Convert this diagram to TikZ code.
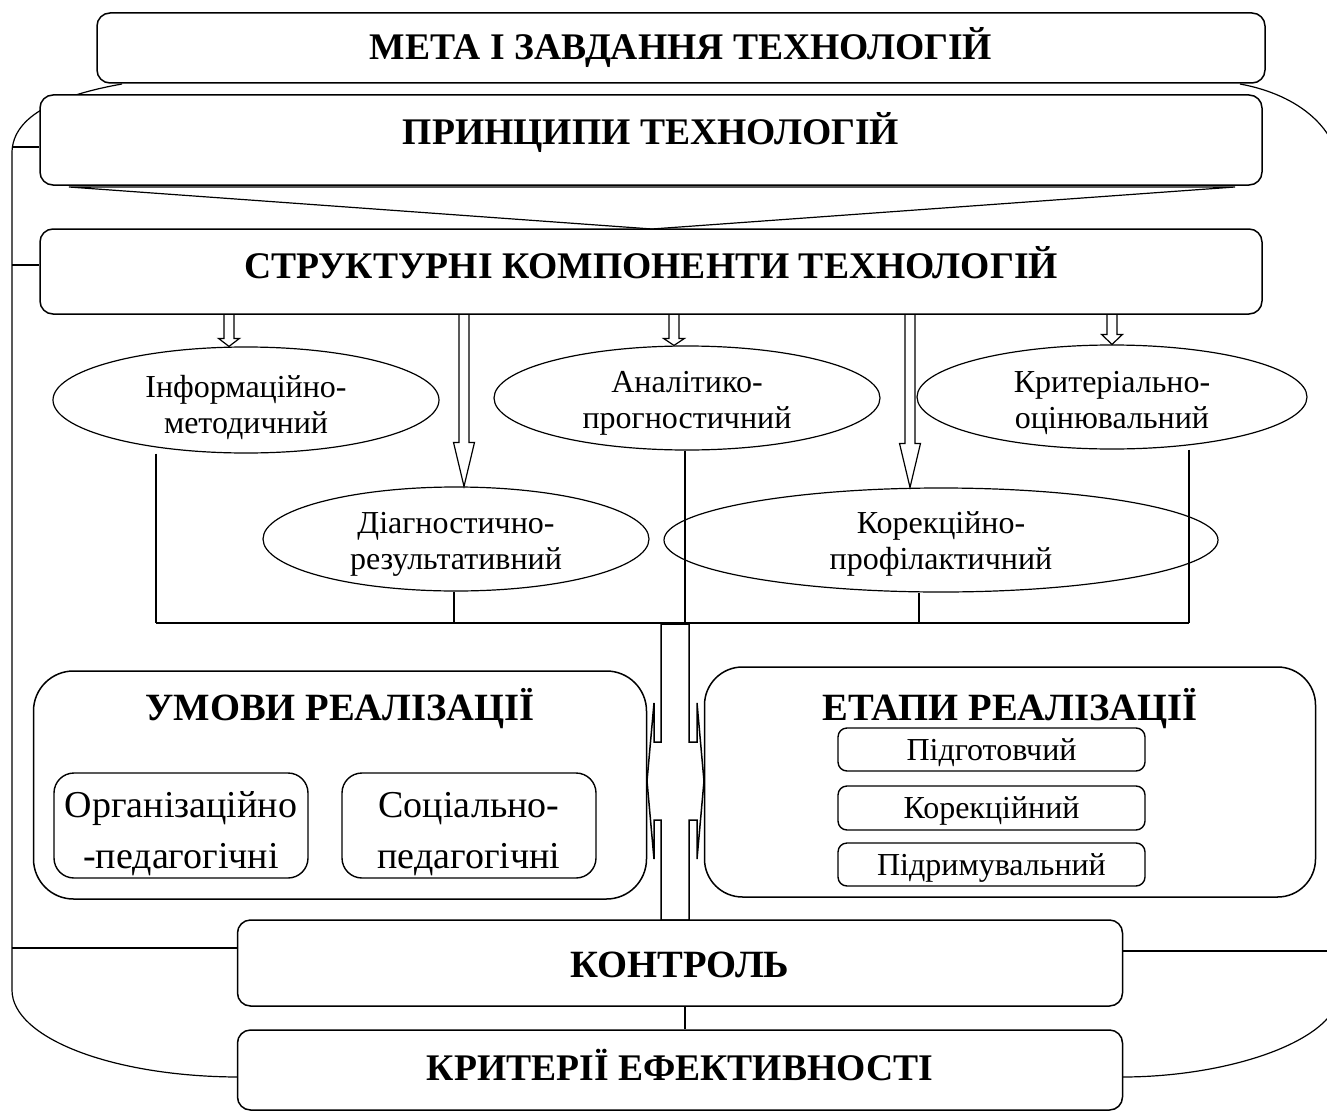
\documentclass[tikz,border=0pt]{standalone}
\usepackage{fontspec}
\setmainfont{Liberation Serif}
\usetikzlibrary{shapes.geometric,calc}
\newcommand\twol[2]{\begin{tabular}[t]{@{}c@{}}#1\\#2\end{tabular}}
\newcommand\hollowarr[3]{\draw[arr] let \p1=(#1), \p2=(#2) in
  (\x1-5pt,\y1) -- (\x1-5pt,\y2+#3) -- (\x1-10.5pt,\y2+#3) -- (\x1,\y2) --
  (\x1+10.5pt,\y2+#3) -- (\x1+5pt,\y2+#3) -- (\x1+5pt,\y1);}
\begin{document}
\begin{tikzpicture}[x=1pt,y=-1pt,
  box/.style={draw, line width=1.5pt, fill=white, inner sep=0pt, rounded corners=13pt, anchor=base},
  head/.style={font=\fontsize{37.6}{40}\selectfont\bfseries},
  bighead/.style={font=\fontsize{38.6}{40}\selectfont\bfseries},
  ell/.style={draw, ellipse, line width=1.2pt, inner sep=0pt, anchor=base, font=\fontsize{32}{36}\selectfont},
  subbox/.style={draw, line width=1.4pt, inner sep=0pt, rounded corners=20pt, anchor=base, minimum width=254pt, font=\fontsize{38}{51}\selectfont},
  stagebox/.style={draw, line width=1.4pt, inner sep=0pt, rounded corners=9pt, anchor=base, minimum width=307pt, font=\fontsize{32}{36}\selectfont},
  ln/.style={line width=1.2pt},
  arr/.style={line width=1.2pt},
]
\useasboundingbox (0,0) rectangle (1327,1113);
\clip (0,0) rectangle (1327,1113);

% outer curves
\draw[ln] (122,84) .. controls (60,95) and (13,115) .. (12,152) -- (12,990)
  .. controls (12,1038) and (113,1077) .. (240,1077);
\draw[ln] (1240,84) .. controls (1300,95) and (1340,130) .. (1340,175) -- (1340,990)
  .. controls (1340,1040) and (1230,1077) .. (1122,1077);

% top boxes
\node[box, head, minimum width=1168pt, text height=47pt, text depth=23pt] (meta) at (681,60) {МЕТА І ЗАВДАННЯ ТЕХНОЛОГІЙ};
\node[box, head, minimum width=1222pt, text height=50pt, text depth=40pt] (prin) at (651,145) {ПРИНЦИПИ ТЕХНОЛОГІЙ};
\draw[ln, fill=white] (69,187) -- (1235,187) -- (652,229) -- cycle;
\node[box, head, minimum width=1222pt, text height=49pt, text depth=36pt] (struct) at (651,278) {СТРУКТУРНІ КОМПОНЕНТИ ТЕХНОЛОГІЙ};

% ellipses
\node[ell, minimum width=386pt, minimum height=106pt, text height=20pt, text depth=26pt] (inf) at (246,397) {\twol{Інформаційно-}{методичний}};
\node[ell, minimum width=386pt, minimum height=104pt, text height=20pt, text depth=32pt] (diag) at (456,533) {\twol{Діагностично-}{результативний}};
\node[ell, minimum width=386pt, minimum height=104pt, text height=20pt, text depth=32pt] (anal) at (687,392) {\twol{Аналітико-}{прогностичний}};
\node[ell, minimum width=390pt, minimum height=104pt, text height=20pt, text depth=30pt] (krit) at (1112,392) {\twol{Критеріально-}{оцінювальний}};
\node[ell, minimum width=554pt, minimum height=104pt, text height=20pt, text depth=34pt] (kor) at (941,533) {\twol{Корекційно-}{профілактичний}};

% arrows from structural components
\coordinate (xa1) at (229,0);
\coordinate (xa2) at (464,0);
\coordinate (xa3) at (674,0);
\coordinate (xa4) at (910,0);
\coordinate (xa5) at (1112,0);
\hollowarr{struct.south -| xa1}{inf.north -| xa1}{8pt}
\hollowarr{struct.south -| xa2}{diag.north -| xa2}{44pt}
\hollowarr{struct.south -| xa3}{anal.north -| xa3}{7pt}
\hollowarr{struct.south -| xa4}{kor.north -| xa4}{44pt}
\hollowarr{struct.south -| xa5}{krit.north -| xa5}{10pt}

% bus
\coordinate (b1) at (156,623);
\coordinate (b2) at (454,623);
\coordinate (b3) at (685,623);
\coordinate (b4) at (919,623);
\coordinate (b5) at (1189,623);
\draw[ln] (inf.south -| b1) -- (b1);
\draw[ln] (diag.south -| b2) -- (b2);
\draw[ln] (anal.south -| b3) -- (b3);
\draw[ln] (kor.south -| b4) -- (b4);
\draw[ln] (krit.south -| b5) -- (b5);
\draw[ln, line width=1.5pt] (b1) -- (b5);

% conditions and stages
\node[box, bighead, rounded corners=40pt, minimum width=613pt, text height=49pt, text depth=179pt] (umovy) at (340,720) {УМОВИ РЕАЛІЗАЦІЇ};
\node[subbox, text height=44pt, text depth=61pt] (org) at (181,817) {\twol{Організаційно}{-педагогічні}};
\node[subbox, text height=44pt, text depth=61pt] (soc) at (469,817) {\twol{Соціально-}{педагогічні}};

\node[box, bighead, rounded corners=38pt, minimum width=611pt, text height=53pt, text depth=177pt] (etapy) at (1010,720) {ЕТАПИ РЕАЛІЗАЦІЇ};
\node[stagebox, text height=32pt, text depth=11pt] (st1) at (991.5,760) {Підготовчий};
\node[stagebox, text height=32pt, text depth=12pt] (st2) at (991.5,818) {Корекційний};
\node[stagebox, text height=32pt, text depth=11pt] (st3) at (991.5,875) {Підримувальний};

% central double arrow pipe
\draw[line width=1.5pt, fill=white] (661,624) -- (689,624) -- (689,742) -- (697,742) -- (697,703)
  -- (704,781) -- (697,859) -- (697,820) -- (689,820) -- (689,920) -- (661,920) -- (661,820)
  -- (654,820) -- (654,859) -- (647,781) -- (654,703) -- (654,742) -- (661,742) -- cycle;

% bottom boxes
\node[box, bighead, minimum width=885pt, text height=57pt, text depth=29pt] (kontrol) at (680,977) {КОНТРОЛЬ};
\node[box, head, minimum width=885pt, text height=50pt, text depth=30pt] (kryt) at (680,1080) {КРИТЕРІЇ ЕФЕКТИВНОСТІ};

\coordinate (c1) at (685,0);
\draw[ln] (kontrol.south -| c1) -- (kryt.north -| c1);

% ticks to the outer frame
\coordinate (t1) at (12,147);
\coordinate (t2) at (12,265);
\coordinate (t3) at (12,948);
\coordinate (t4) at (1340,951);
\draw[ln] (t1) -- (t1 -| prin.west);
\draw[ln] (t2) -- (t2 -| struct.west);
\draw[ln] (t3) -- (t3 -| kontrol.west);
\draw[ln] (t4) -- (t4 -| kontrol.east);
\end{tikzpicture}
\end{document}
